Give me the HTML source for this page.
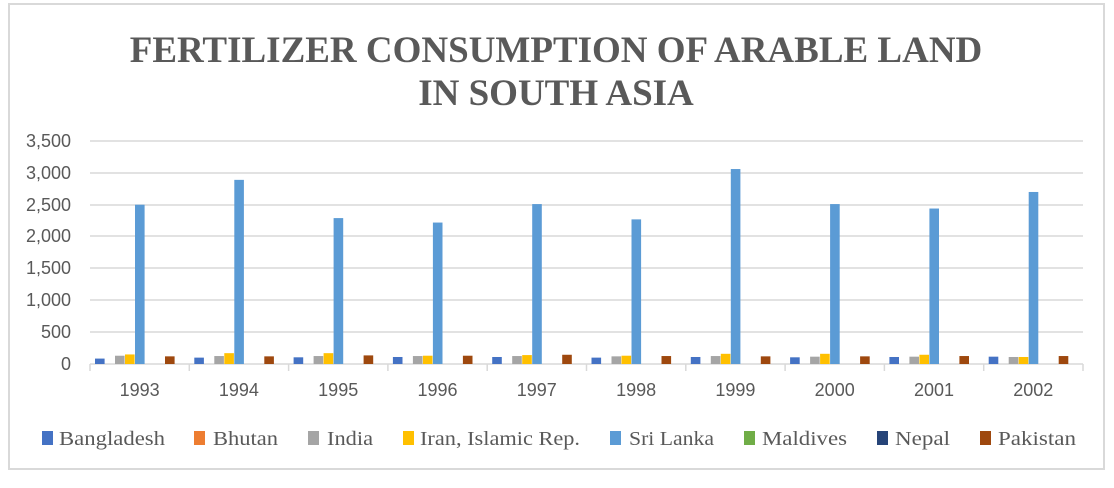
<!DOCTYPE html>
<html><head><meta charset="utf-8"><style>
body{margin:0;background:#fff;}
svg text{font-family:"Liberation Sans",sans-serif;fill:#595959;}
svg text.lgt{font-family:"Liberation Serif",serif;}
</style></head><body>
<svg width="1114" height="483" xmlns="http://www.w3.org/2000/svg">
<rect x="9" y="4" width="1095" height="465" fill="#fff" stroke="#d9d9d9" stroke-width="2"/>
<text x="556" y="62" text-anchor="middle" style="font-family:'Liberation Serif',serif;font-weight:bold;font-size:37px">FERTILIZER CONSUMPTION OF ARABLE LAND</text>
<text x="556" y="105" text-anchor="middle" style="font-family:'Liberation Serif',serif;font-weight:bold;font-size:37px">IN SOUTH ASIA</text>
<g stroke="#d9d9d9" stroke-width="1.5">
<line x1="90" x2="1083" y1="141" y2="141"/><line x1="90" x2="1083" y1="173" y2="173"/>
<line x1="90" x2="1083" y1="205" y2="205"/><line x1="90" x2="1083" y1="236" y2="236"/>
<line x1="90" x2="1083" y1="268" y2="268"/><line x1="90" x2="1083" y1="300" y2="300"/>
<line x1="90" x2="1083" y1="332" y2="332"/><line x1="90" x2="1083" y1="364" y2="364"/>
</g>
<g font-size="18" text-anchor="end">
<text x="71" y="147">3,500</text><text x="71" y="179">3,000</text><text x="71" y="211">2,500</text>
<text x="71" y="242">2,000</text><text x="71" y="274">1,500</text><text x="71" y="306">1,000</text>
<text x="71" y="338">500</text><text x="71" y="370">0</text>
</g>
<g id="bars"></g>
<g id="xt" stroke="#d9d9d9" stroke-width="1.5"></g>
<g id="xl" font-size="18" text-anchor="middle"></g>
<g id="lg" font-size="20"></g>
</svg>
<script>
var ns="http://www.w3.org/2000/svg";
function el(p,t,a,txt){var e=document.createElementNS(ns,t);for(var k in a)e.setAttribute(k,a[k]);if(txt)e.textContent=txt;document.getElementById(p).appendChild(e);}
var cols=["#4472c4","#ed7d31","#a5a5a5","#ffc000","#5b9bd5","#70ad47","#264478","#9e480e"];
var sl=[2500,2890,2290,2220,2510,2270,3060,2510,2440,2700];
var bd=[85,100,105,110,110,100,110,105,110,115];
var ind=[130,125,125,125,125,120,125,115,115,110];
var ir=[150,170,170,130,140,130,160,160,145,110];
var pk=[120,120,135,130,145,125,120,120,125,125];
var s=223/3500;
for(var i=0;i<10;i++){
 var g=90+i*99.3;
 var vals=[bd[i],0,ind[i],ir[i],sl[i],0,0,pk[i]];
 for(var j=0;j<8;j++){if(!vals[j])continue;var h=vals[j]*s;
  el("bars","rect",{x:g+5+j*10,y:364-h,width:9.6,height:h,fill:cols[j]});}
 el("xl","text",{x:g+49.6,y:396},String(1993+i));
}
for(var i=0;i<=10;i++){var x=90+i*99.3;el("xt","line",{x1:x,x2:x,y1:364,y2:371});}
var names=["Bangladesh","Bhutan","India","Iran, Islamic Rep.","Sri Lanka","Maldives","Nepal","Pakistan"];
var mx=[42,194,308,403,610,744,877,980];
var tx=[59,213,327,420,629,762,895,998];
var te=[165,278,373,580,714,847,950,1076];
for(var j=0;j<8;j++){el("lg","rect",{x:mx[j],y:431,width:11,height:14,fill:cols[j]});
 el("lg","text",{x:tx[j],y:445,"class":"lgt",textLength:te[j]-tx[j],lengthAdjust:"spacingAndGlyphs"},names[j]);}
</script>
</body></html>
